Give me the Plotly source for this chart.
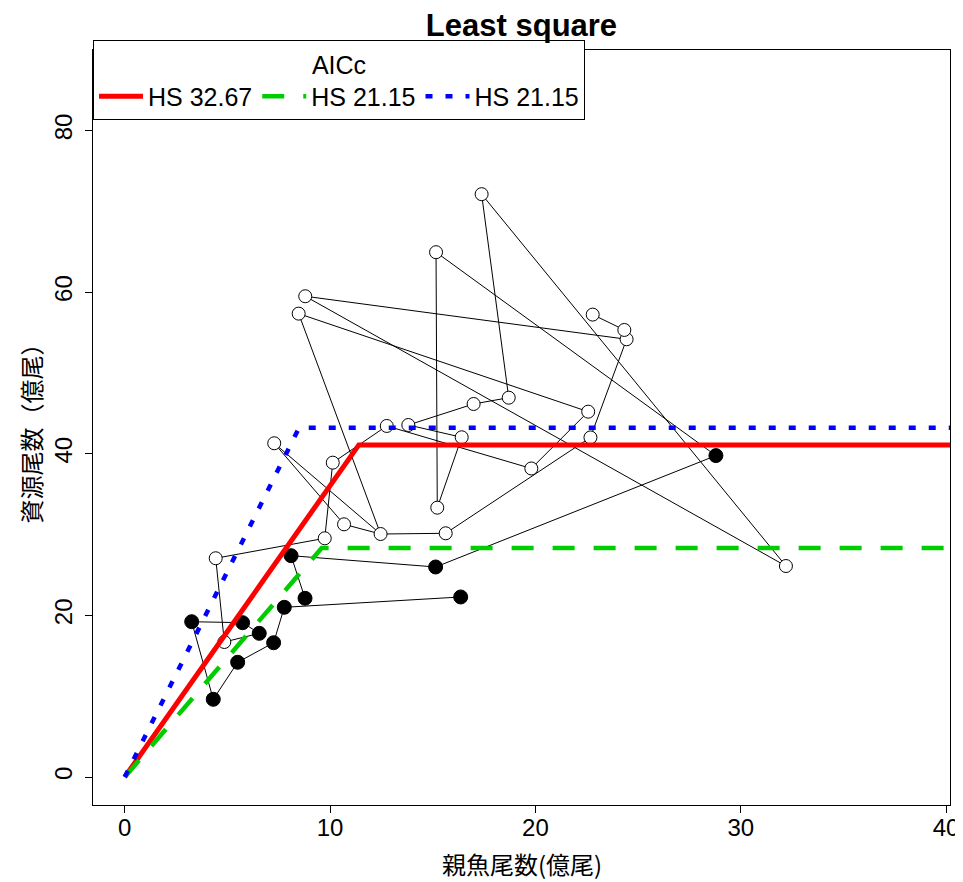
import plotly.graph_objects as go

# Observed stock-recruitment pairs (親魚尾数, 資源尾数; 億尾)
ssb = [16.36, 7.77, 7.25, 5.50, 4.31, 3.26, 5.74, 6.55, 4.85, 4.43, 9.74, 10.13, 12.76,
       19.80, 22.57, 8.47, 12.46, 7.28, 10.68, 15.63, 22.68, 24.44, 24.33, 22.79,
       8.78, 8.10, 15.14, 28.79, 15.16, 15.22, 16.41, 13.81, 16.99, 18.70, 17.38, 32.20, 8.79]
rec = [22.28, 21.00, 16.62, 14.20, 9.62, 19.22, 19.10, 17.78, 16.71, 27.07, 29.54, 38.90, 43.44,
       38.18, 45.21, 57.34, 30.07, 41.30, 31.27, 30.16, 42.02, 54.17, 55.32, 57.22,
       22.12, 27.39, 25.99, 39.77, 64.94, 33.33, 42.04, 43.56, 46.16, 46.94, 72.12, 26.11, 59.49]
filled = [1, 1, 1, 1, 1, 1, 1, 1, 0, 0, 0, 0, 0,
          0, 0, 0, 0, 0, 0, 0, 0, 0, 0, 0,
          1, 1, 1, 1, 0, 0, 0, 0, 0, 0, 0, 0, 0]

# Order in which the points are joined (indices into the arrays above)
path_a = [0, 1, 2, 3, 4, 5, 6, 7, 8, 9, 10, 11, 12, 13, 14, 15, 16, 17, 18, 16, 19, 20, 21, 22, 23]
path_b = [24, 25, 26, 27, 28, 29, 30, 31, 32, 33, 34, 35, 36, 21]

# Hockey-stick fits
hs_names = ["HS 32.67", "HS 21.15", "HS 21.15"]
hs_slope = [3.605, 2.955, 5.09]
hs_break = [11.4, 9.59, 8.49]
hs_colors = ["#ff0000", "#00cd00", "#0000ff"]
hs_dash = ["solid", "22px,19px", "7px,13px"]
hs_width = [5, 4.5, 4.5]

x_ticks = [0, 10, 20, 30, 40]
y_ticks = [0, 20, 40, 60, 80]

title_text = "<b>Least square</b>"
x_title = "親魚尾数(億尾)"
y_title = "資源尾数（億尾）"

# page body has an 8px margin; the figure is sized to end at the window edge
W, H = 955, 874
ML, MR, MT, MB = 85, 13, 42, 77
PW, PH = W - ML - MR, H - MT - MB

fig = go.Figure()

lx, ly = [], []
for k, p in enumerate([path_a, path_b]):
    if k:
        lx.append(None)
        ly.append(None)
    lx += [ssb[i] for i in p]
    ly += [rec[i] for i in p]
fig.add_trace(go.Scatter(x=lx, y=ly, mode="lines", line=dict(color="black", width=1),
                         showlegend=False, hoverinfo="skip"))

ox = [ssb[i] for i in range(len(ssb)) if not filled[i]]
oy = [rec[i] for i in range(len(rec)) if not filled[i]]
fx = [ssb[i] for i in range(len(ssb)) if filled[i]]
fy = [rec[i] for i in range(len(rec)) if filled[i]]
fig.add_trace(go.Scatter(x=ox, y=oy, mode="markers", showlegend=False,
                         marker=dict(size=13, color="white", line=dict(color="black", width=1))))
fig.add_trace(go.Scatter(x=fx, y=fy, mode="markers", showlegend=False,
                         marker=dict(size=14, color="black", line=dict(color="black", width=1))))

for name, a, b, c, d, w in zip(hs_names, hs_slope, hs_break, hs_colors, hs_dash, hs_width):
    fig.add_trace(go.Scatter(x=[0, b, 45], y=[0, a * b, a * b], mode="lines", name=name,
                             line=dict(color=c, width=w, dash=d)))

fig.update_layout(
    width=W, height=H,
    margin=dict(l=ML, r=MR, t=MT, b=MB, autoexpand=False),
    paper_bgcolor="white", plot_bgcolor="white",
    font=dict(family="Liberation Sans, Arial, sans-serif", size=24, color="black"),
    title=dict(text=title_text, x=0.5, xref="paper", xanchor="center",
               y=1 - 17 / H, yref="container", yanchor="middle",
               font=dict(size=31, family="Liberation Sans, Arial, sans-serif")),
    legend=dict(x=0, y=1 + 10 / PH, xanchor="left", yanchor="top", orientation="h",
                bordercolor="black", borderwidth=1, bgcolor="white",
                font=dict(size=25), itemwidth=44,
                title=dict(text="AICc", side="top center", font=dict(size=25))),
    xaxis=dict(range=[-1.546, 40.19], tickvals=x_ticks, showgrid=False, zeroline=False,
               showline=True, mirror=True, linecolor="black", linewidth=1, automargin=False,
               ticks="outside", ticklen=7, tickcolor="black",
               ticklabelposition="outside", ticklabelstandoff=-6),
    yaxis=dict(range=[-3.46, 89.96], tickvals=y_ticks, showgrid=False, zeroline=False,
               showline=True, mirror=True, linecolor="black", linewidth=1, automargin=False,
               ticks="outside", ticklen=7, tickcolor="black", tickangle=-90,
               ticklabelposition="outside", ticklabelstandoff=3),
    annotations=[
        dict(text=x_title, xref="paper", yref="paper", x=0.5, y=-(864 - 805) / PH,
             xanchor="center", yanchor="middle", showarrow=False,
             font=dict(family="Noto Sans CJK JP", size=24)),
        dict(text=y_title, xref="paper", yref="paper", x=-(93 - 30) / PW, y=0.5,
             xanchor="center", yanchor="middle", showarrow=False, textangle=-90,
             font=dict(family="Noto Sans CJK JP", size=24)),
    ],
)

fig.write_html("out.html")
